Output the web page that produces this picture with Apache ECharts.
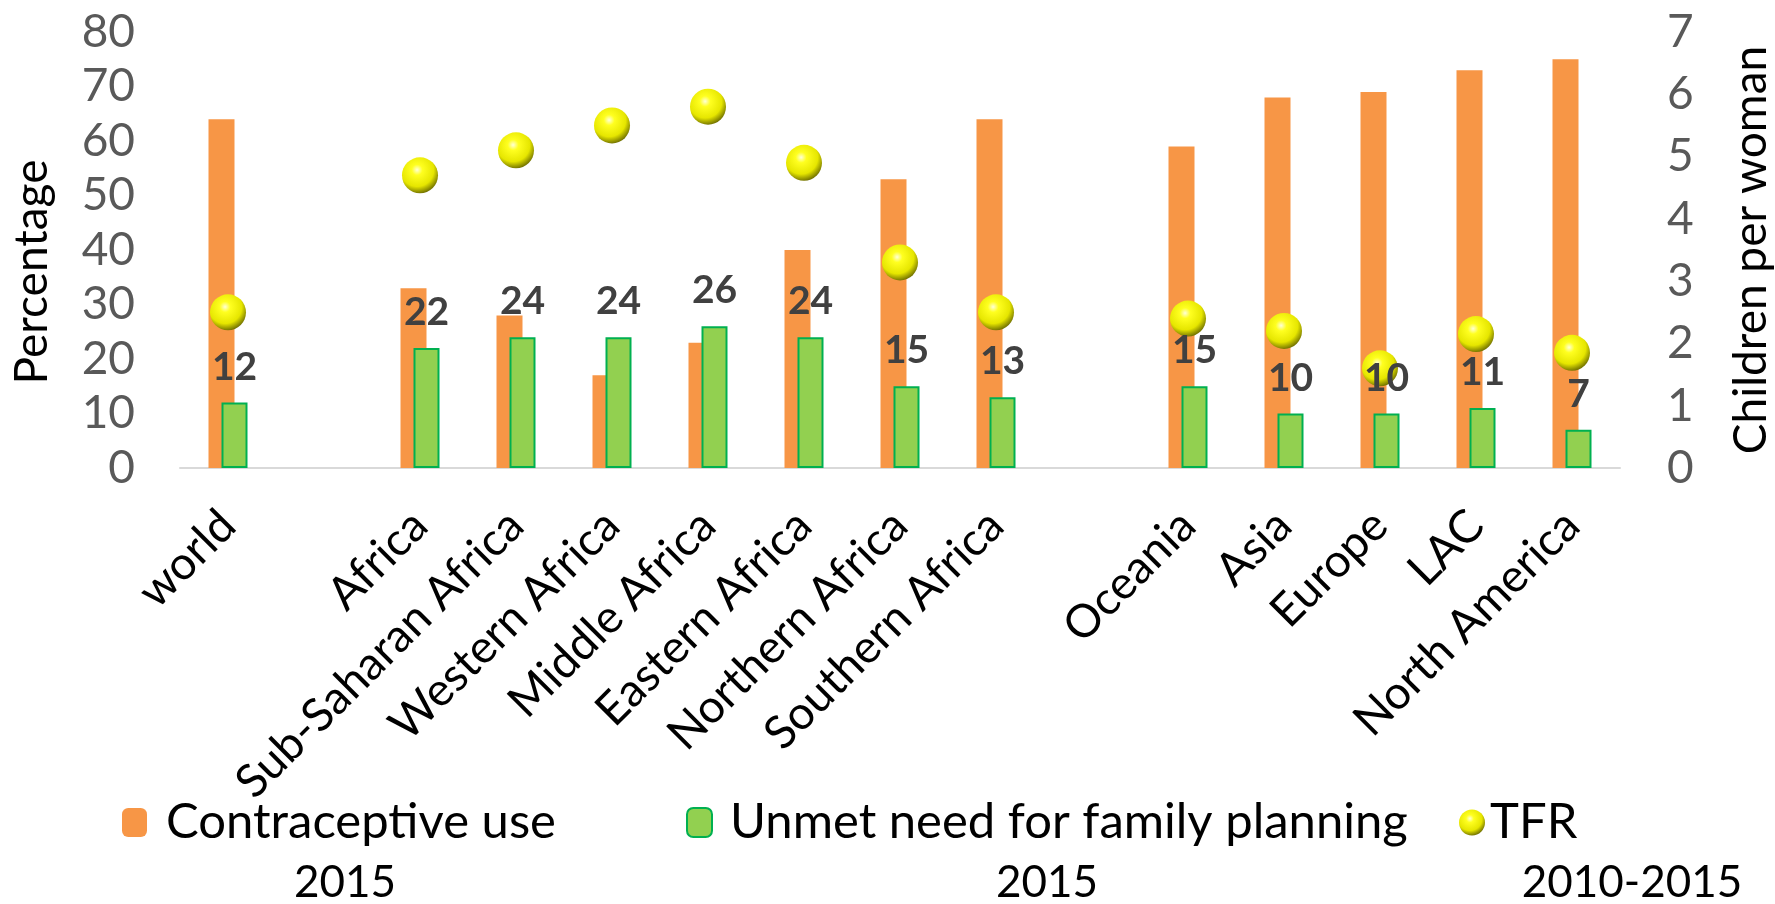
<!DOCTYPE html>
<html>
<head>
<meta charset="utf-8">
<script src="https://cdn.jsdelivr.net/npm/echarts@6/dist/echarts.min.js"></script>
<style>
  html, body { margin: 0; padding: 0; background: #ffffff; }
  #chart { width: 1775px; height: 904px; }
</style>
</head>
<body>
<div id="chart"></div>
<script>
// ---- Data ----
const categories = ['world', '', 'Africa', 'Sub-Saharan Africa', 'Western Africa', 'Middle Africa',
  'Eastern Africa', 'Northern Africa', 'Southern Africa', '', 'Oceania', 'Asia', 'Europe', 'LAC', 'North America'];
const contraceptiveUse = [64, null, 33, 28, 17, 23, 40, 53, 64, null, 59, 68, 69, 73, 75];
const unmetNeed = [12, null, 22, 24, 24, 26, 24, 15, 13, null, 15, 10, 10, 11, 7];
const tfr = [2.5, null, 4.7, 5.1, 5.5, 5.8, 4.9, 3.3, 2.5, null, 2.4, 2.2, 1.6, 2.15, 1.85];
const seriesNames = ['Contraceptive use', 'Unmet need for family planning', 'TFR'];
const seriesYears = ['2015', '2015', '2010-2015'];
const leftTicks = { min: 0, max: 80, interval: 10 };
const rightTicks = { min: 0, max: 7, interval: 1 };

const FONT = 'Lato, "Open Sans", sans-serif';
const ballColor = {
  type: 'radial', x: 0.42, y: 0.35, r: 0.68,
  colorStops: [
    { offset: 0, color: '#FFFFD8' },
    { offset: 0.22, color: '#FFFF20' },
    { offset: 0.68, color: '#E6E600' },
    { offset: 1, color: '#686800' }
  ]
};
const ballPath = 'path://M0,50 A50,50 0 1,1 100,50 A50,50 0 1,1 0,50 Z';

const chart = echarts.init(document.getElementById('chart'), null, { renderer: 'canvas' });

const legendBase = {
  orient: 'horizontal',
  top: 798,
  padding: 0,
  itemGap: 0,
  selectedMode: false,
  textStyle: { fontFamily: FONT, fontSize: 49, color: '#000000' }
};

const option = {
  backgroundColor: '#ffffff',
  animation: false,
  grid: { left: 180, right: 155, top: 32, bottom: 436, containLabel: false, outerBoundsMode: 'none' },
  legend: [
    Object.assign({}, legendBase, {
      left: 122, data: [seriesNames[0]], itemWidth: 25, itemHeight: 29,
      textStyle: Object.assign({}, legendBase.textStyle, { padding: [0, 0, 0, 14] })
    }),
    Object.assign({}, legendBase, {
      left: 686, data: [seriesNames[1]], itemWidth: 25, itemHeight: 29,
      textStyle: Object.assign({}, legendBase.textStyle, { padding: [0, 0, 0, 13] })
    }),
    Object.assign({}, legendBase, {
      left: 1459, data: [{ name: seriesNames[2], icon: ballPath }], itemWidth: 26, itemHeight: 33,
      textStyle: Object.assign({}, legendBase.textStyle, { padding: [0, 0, 0, 0] })
    })
  ],
  xAxis: {
    type: 'category',
    data: categories,
    axisLine: { show: true, lineStyle: { color: '#D9D9D9', width: 2 } },
    axisTick: { show: false },
    axisLabel: { interval: 0, rotate: 45, margin: 50, fontFamily: FONT, fontSize: 46, color: '#000000' },
    splitLine: { show: false }
  },
  yAxis: [
    {
      type: 'value', min: leftTicks.min, max: leftTicks.max, interval: leftTicks.interval,
      name: 'Percentage', nameLocation: 'middle', nameGap: 125, nameRotate: 90,
      nameTextStyle: { fontFamily: FONT, fontSize: 46, color: '#000000', padding: [0, 44, 0, 0] },
      axisLine: { show: false }, axisTick: { show: false }, splitLine: { show: false },
      axisLabel: { margin: 45, fontFamily: FONT, fontSize: 46, color: '#595959' }
    },
    {
      type: 'value', min: rightTicks.min, max: rightTicks.max, interval: rightTicks.interval,
      name: 'Children per woman', nameLocation: 'middle', nameGap: 108, nameRotate: 90,
      nameTextStyle: { fontFamily: FONT, fontSize: 46, color: '#000000' },
      axisLine: { show: false }, axisTick: { show: false }, splitLine: { show: false },
      axisLabel: { margin: 47, fontFamily: FONT, fontSize: 46, color: '#595959' }
    }
  ],
  series: [
    {
      name: seriesNames[0], type: 'bar', yAxisIndex: 0, data: contraceptiveUse,
      barWidth: 26, barGap: '-50%',
      itemStyle: { color: '#F79646' },
      z: 2
    },
    {
      name: seriesNames[2], type: 'scatter', yAxisIndex: 1, data: tfr,
      symbol: 'circle', symbolSize: 36,
      itemStyle: { color: ballColor, opacity: 1 },
      z: 3
    },
    {
      name: seriesNames[1], type: 'bar', yAxisIndex: 0, data: unmetNeed,
      barWidth: 26, barGap: '-50%',
      itemStyle: { color: '#92D050', borderColor: '#00B050', borderWidth: 2 },
      label: { show: true, position: 'top', distance: 16, fontFamily: FONT, fontWeight: 'bold', fontSize: 39, color: '#404040' },
      z: 4
    }
  ]
};

// year captions under legend entries
option.graphic = [
  { type: 'text', x: 345, y: 883, style: { text: seriesYears[0], font: '44px ' + FONT, fill: '#000', align: 'center', verticalAlign: 'middle' } },
  { type: 'text', x: 1047, y: 883, style: { text: seriesYears[1], font: '44px ' + FONT, fill: '#000', align: 'center', verticalAlign: 'middle' } },
  { type: 'text', x: 1632, y: 883, style: { text: seriesYears[2], font: '44px ' + FONT, fill: '#000', align: 'center', verticalAlign: 'middle' } }
];

chart.setOption(option);
</script>
</body>
</html>
